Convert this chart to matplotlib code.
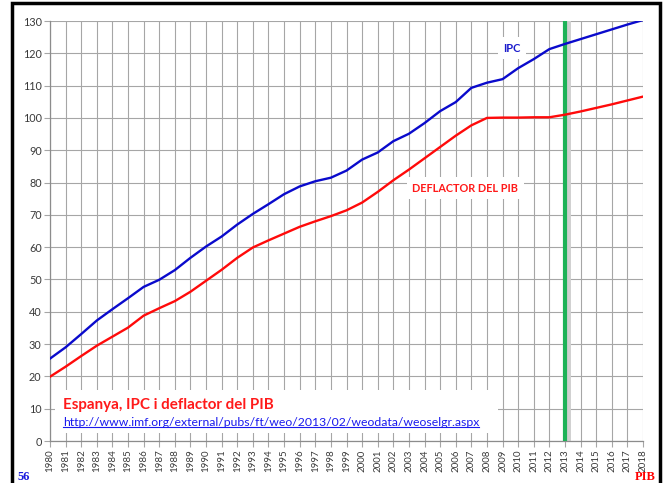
import matplotlib
matplotlib.use("Agg")
import matplotlib.pyplot as plt
from matplotlib.patches import Rectangle
from matplotlib.lines import Line2D

# Dades llegides del grafic (FMI, WEO octubre 2013)
YEARS = list(range(1980, 2019))
IPC = [25.5, 29.0, 33.1, 37.3, 40.8, 44.2, 47.7, 49.9, 52.9, 56.7,
       60.2, 63.3, 67.0, 70.3, 73.3, 76.4, 78.8, 80.4, 81.5, 83.7,
       87.1, 89.3, 92.8, 95.1, 98.4, 102.1, 104.9, 109.3, 110.9, 112.0,
       115.4, 118.2, 121.3, 122.9, 124.4, 125.9, 127.4, 128.9, 130.3]
DEFLACTOR = [19.9, 23.0, 26.3, 29.5, 32.3, 35.1, 38.8, 41.1, 43.3, 46.2,
             49.6, 53.0, 56.7, 59.9, 62.1, 64.2, 66.3, 68.0, 69.6, 71.4,
             73.8, 77.1, 80.7, 84.0, 87.5, 91.0, 94.5, 97.7, 100.0, 100.1,
             100.1, 100.2, 100.2, 101.0, 102.0, 103.1, 104.2, 105.4, 106.6]
Y_TICKS = list(range(0, 131, 10))
YEAR_MARK = 2013

TITLE = "Espanya, IPC i deflactor del PIB"
URL = "http://www.imf.org/external/pubs/ft/weo/2013/02/weodata/weoselgr.aspx"

plt.rcParams["font.family"] = ["Lato", "DejaVu Sans"]

W, H = 665, 483
fig = plt.figure(figsize=(W / 100, H / 100), dpi=100)
ax = fig.add_axes([50 / W, 42 / H, 593 / W, 420 / H])

grid_col = "#a6a6a6"
ax.set_xlim(YEARS[0], YEARS[-1])
ax.set_ylim(0, 130)
ax.set_xticks(YEARS)
ax.set_xticklabels([str(y) for y in YEARS], rotation=90, fontsize=7, color="#3a3a3a")
ax.set_yticks(Y_TICKS)
ax.set_yticklabels([str(v) for v in Y_TICKS], fontsize=7.8, color="#3a3a3a")
ax.tick_params(axis="both", length=4, width=0.8, color=grid_col, pad=2)
ax.grid(True, color=grid_col, linewidth=0.8)
ax.set_axisbelow(True)
for side in ["top", "right"]:
    ax.spines[side].set_visible(False)
for side in ["left", "bottom"]:
    ax.spines[side].set_color("#8c8c8c")
    ax.spines[side].set_linewidth(0.9)

# linia vertical de l'any 2013
ax.axvline(YEAR_MARK + 0.12, color="#d0d0d0", linewidth=5, zorder=2)
ax.axvline(YEAR_MARK, color="#1db257", linewidth=3, zorder=3)

ax.plot(YEARS, IPC, color="#0a0acc", linewidth=1.7, zorder=4)
ax.plot(YEARS, DEFLACTOR, color="#ff0a0a", linewidth=1.7, zorder=4)

box = dict(facecolor="white", edgecolor="none", pad=4)
ax.text(2009.6, 121.6, "IPC", color="#1a1acc", fontsize=8, fontweight="bold",
        ha="center", va="center", bbox=box, zorder=5)
ax.text(2006.6, 78.3, "DEFLACTOR DEL PIB", color="#ff1a1a", fontsize=7.8, fontweight="bold",
        ha="center", va="center", bbox=box, zorder=5)

# caixa blanca del titol i l'enllac
ax.add_patch(Rectangle((0.008, 0.019), 0.747, 0.102, transform=ax.transAxes,
                       facecolor="white", edgecolor="none", zorder=5))
ax.text(13 / 593, (441 - 405) / 420, TITLE, transform=ax.transAxes, color="#ff1a1a",
        fontsize=10.9, fontweight="bold", ha="left", va="center", zorder=6)
url_txt = ax.text(13 / 593, (441 - 423) / 420, URL, transform=ax.transAxes, color="#1a1aee",
                  fontsize=8.8, ha="left", va="center", zorder=6)

fig.text(18 / W, 1 - 477 / H, "56", color="#1a1add", fontsize=9, fontweight="bold",
         family="Liberation Serif", ha="left", va="center")
fig.text(656 / W, 1 - 477 / H, "PIB", color="#ff0000", fontsize=9, fontweight="bold",
         family="Liberation Serif", ha="right", va="center")

# marc negre
fig.add_artist(Rectangle((11.7 / W, -0.05), (659.5 - 11.7) / W, 1.05 - 3.2 / H,
                         transform=fig.transFigure, facecolor="none",
                         edgecolor="black", linewidth=2.5, zorder=10))

# subratllat de l'enllac
fig.canvas.draw()
bb = url_txt.get_window_extent().transformed(fig.transFigure.inverted())
fig.add_artist(Line2D([bb.x0, bb.x1], [bb.y0 + 0.004, bb.y0 + 0.004],
                      transform=fig.transFigure, color="#1a1aee", linewidth=0.8))

fig.savefig("out.png", dpi=100)
